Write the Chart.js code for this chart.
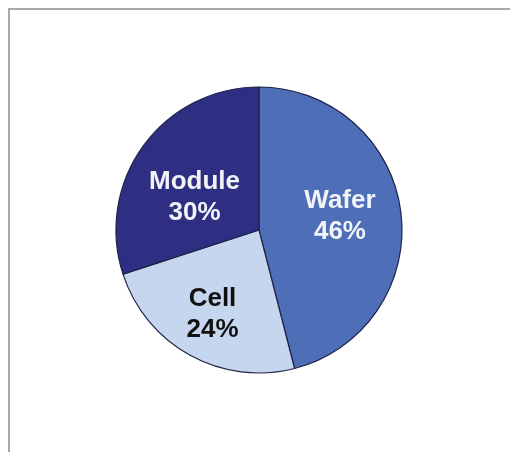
<!DOCTYPE html>
<html>
<head>
<meta charset="utf-8">
<script src="https://cdn.jsdelivr.net/npm/chart.js@4"></script>
<style>
  html, body { margin: 0; padding: 0; background: #fff; }
  #wrap { position: relative; width: 510px; height: 452px; }
  #frame { position: absolute; left: 8px; top: 8px; right: 0; bottom: 0;
           border-top: 2px solid #a8a8a8; border-left: 2px solid #a8a8a8; }
  canvas { position: absolute; left: 0; top: 0; }
</style>
</head>
<body>
<div id="wrap">
  <div id="frame"></div>
  <canvas id="chart" width="510" height="452"></canvas>
</div>
<script>
// Data
const categories = ['Wafer', 'Cell', 'Module'];
const shares = [46, 24, 30];
const sliceColors = ['#4f6eb8', '#c6d6ee', '#2e2f83'];
const textColors = ['#f2f3f8', '#111111', '#f2f3f8'];

// Draw "Name / NN%" inside each slice
const sliceLabels = {
    id: 'sliceLabels',
    afterDatasetsDraw(chart, args, opts) {
        const ctx = chart.ctx;
        const meta = chart.getDatasetMeta(0);
        ctx.save();
        ctx.font = 'bold 26px "Liberation Sans", Arial, sans-serif';
        ctx.textAlign = 'center';
        ctx.textBaseline = 'middle';
        meta.data.forEach((arc, i) => {
            const mid = (arc.startAngle + arc.endAngle) / 2 + opts.shift[i];
            const r = arc.outerRadius * opts.radial[i];
            const x = arc.x + Math.cos(mid) * r;
            const y = arc.y + Math.sin(mid) * r;
            ctx.fillStyle = textColors[i];
            ctx.fillText(categories[i], x, y - 15.5);
            ctx.fillText(shares[i] + '%', x, y + 15.5);
        });
        ctx.restore();
    }
};

new Chart(document.getElementById('chart'), {
    type: 'pie',
    data: {
        labels: categories,
        datasets: [{
            data: shares,
            backgroundColor: sliceColors,
            borderColor: '#1d2448',
            borderWidth: 1.2,
            hoverOffset: 0
        }]
    },
    options: {
        responsive: false,
        animation: false,
        radius: 143,
        layout: { padding: { left: 18, right: 10, top: 18, bottom: 10 } },
        plugins: {
            legend: { display: false },
            tooltip: { enabled: false },
            sliceLabels: { radial: [0.574, 0.675, 0.505], shift: [-0.04, 0, -0.162] }
        }
    },
    plugins: [sliceLabels]
});
</script>
</body>
</html>
